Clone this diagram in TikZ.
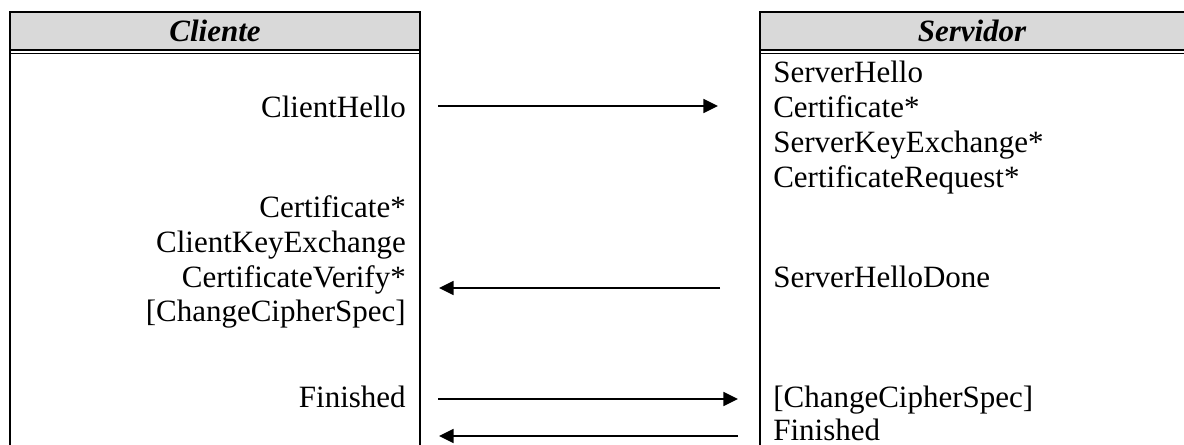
\documentclass[tikz,border=0pt]{standalone}
\usepackage{fontspec}
\setmainfont{Liberation Serif}
\usetikzlibrary{arrows.meta}
\definecolor{hdrgray}{HTML}{D9D9D9}
\tikzset{
  msgL/.style={anchor=base east, inner sep=0pt, font=\fontsize{23.25}{27}\selectfont},
  msgR/.style={anchor=base west, inner sep=0pt, font=\fontsize{23.25}{27}\selectfont},
  hdr/.style={inner sep=0pt, font=\fontsize{23.25}{27}\selectfont\bfseries\itshape},
  frame/.style={line width=1.5pt},
  thinframe/.style={line width=1.1pt},
  msgarrow/.style={line width=1.25pt, -{Triangle[length=11pt,width=10.5pt]}}
}
\begin{document}
\begin{tikzpicture}[x=0.75pt,y=-0.75pt]
\useasboundingbox (0,0) rectangle (1184,444);
% header fills
\fill[hdrgray] (10,12) rectangle (420,50);
\fill[hdrgray] (760,12) rectangle (1190,50);
% header lines
\draw[frame] (9.25,12) -- (420.75,12);
\draw[frame] (759.25,12) -- (1190,12);
\draw[frame] (10,50) -- (420,50);
\draw[frame] (760,50) -- (1190,50);
\draw[thinframe] (10,53.5) -- (420,53.5);
\draw[thinframe] (760,53.5) -- (1190,53.5);
% verticals
\draw[frame] (10,12) -- (10,450);
\draw[frame] (420,12) -- (420,450);
\draw[frame] (760,12) -- (760,450);
% header texts
\node[hdr] (cliente) at (215,31) {Cliente};
\node[hdr] (servidor) at (972,31) {Servidor};
% client messages
\node[msgL] (chello) at (406,117) {ClientHello};
\node[msgL] (ccert) at (406,217) {Certificate*};
\node[msgL] (ckex) at (406,252) {ClientKeyExchange};
\node[msgL] (cverify) at (406,287) {CertificateVerify*};
\node[msgL] (cccs) at (406,321) {[ChangeCipherSpec]};
\node[msgL] (cfin) at (406,407) {Finished};
% server messages
\node[msgR] (shello) at (773,82) {ServerHello};
\node[msgR] (scert) at (773,117) {Certificate*};
\node[msgR] (skex) at (773,152) {ServerKeyExchange*};
\node[msgR] (sreq) at (773,187) {CertificateRequest*};
\node[msgR] (sdone) at (773,287) {ServerHelloDone};
\node[msgR] (sccs) at (773,407) {[ChangeCipherSpec]};
\node[msgR] (sfin) at (773,440) {Finished};
% arrow endpoints
\coordinate (a1s) at (438,106); \coordinate (a1e) at (718,106);
\coordinate (a2s) at (720,288); \coordinate (a2e) at (439,288);
\coordinate (a3s) at (438,399); \coordinate (a3e) at (738,399);
\coordinate (a4s) at (738,436); \coordinate (a4e) at (439,436);
\draw[msgarrow] (a1s) -- (a1e);
\draw[msgarrow] (a2s) -- (a2e);
\draw[msgarrow] (a3s) -- (a3e);
\draw[msgarrow] (a4s) -- (a4e);
\end{tikzpicture}
\end{document}
